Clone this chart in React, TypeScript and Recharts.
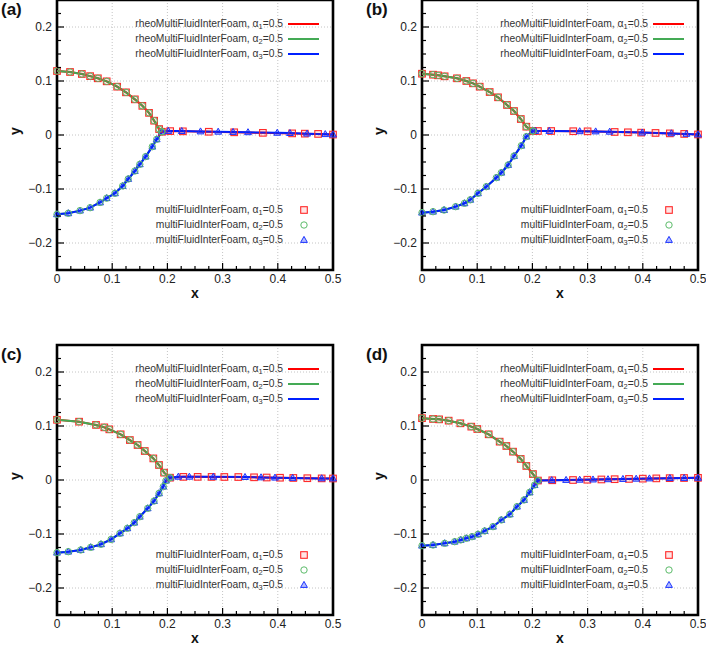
import React from "react";
import {
    ComposedChart,
    Line,
    Scatter,
    XAxis,
    YAxis,
    CartesianGrid,
    ReferenceArea
} from "recharts";

type Pt = { x: number; y: number };
const pts = (rows: number[][]): Pt[] => rows.map(([x, y]) => ({ x, y }));

// panel (a)
const upperA = pts([[0, 0.1185], [0.0236, 0.1167], [0.045, 0.113], [0.06, 0.109], [0.074, 0.105], [0.09, 0.0994], [0.109, 0.0895], [0.125, 0.079], [0.141, 0.066], [0.1546, 0.054], [0.1667, 0.041], [0.176, 0.0265], [0.185, 0.011], [0.19, 0.006]]);
const lowerA = pts([[0, -0.1469], [0.0205, -0.145], [0.0417, -0.14], [0.06, -0.1346], [0.078, -0.125], [0.09, -0.117], [0.105, -0.108], [0.119, -0.0944], [0.129, -0.0815], [0.141, -0.0667], [0.15, -0.0543], [0.1606, -0.04], [0.1727, -0.0216], [0.1806, -0.008], [0.19, 0.006]]);
const flatSqA = pts([[0.205, 0.0072], [0.228, 0.0068], [0.275, 0.006], [0.321, 0.005], [0.373, 0.004], [0.426, 0.003], [0.449, 0.0025], [0.473, 0.002], [0.5, 0.0008]]);
const flatTrA = pts([[0.2017, 0.0074], [0.226, 0.0072], [0.26, 0.0065], [0.292, 0.006], [0.319, 0.0055], [0.346, 0.005], [0.399, 0.004], [0.422, 0.0035], [0.453, 0.0025], [0.486, 0.0015], [0.5, 0.0008]]);

// panel (b)
const upperB = pts([[0, 0.1135], [0.02, 0.1117], [0.029, 0.1105], [0.041, 0.1087], [0.0634, 0.105], [0.0803, 0.1], [0.0924, 0.0957], [0.1045, 0.0895], [0.1226, 0.0796], [0.1377, 0.0698], [0.154, 0.0556], [0.1667, 0.0444], [0.179, 0.0296], [0.189, 0.0154], [0.201, 0.0074]]);
const lowerB = pts([[0, -0.1438], [0.02, -0.142], [0.04, -0.139], [0.061, -0.1327], [0.077, -0.1265], [0.0875, -0.12], [0.1014, -0.108], [0.1165, -0.0957], [0.1347, -0.079], [0.1437, -0.0698], [0.156, -0.0556], [0.1667, -0.039], [0.18, -0.0198], [0.189, -0.003], [0.201, 0.0074]]);
const flatSqB = pts([[0.21, 0.0074], [0.234, 0.0074], [0.274, 0.007], [0.3, 0.0068], [0.349, 0.0056], [0.373, 0.005], [0.397, 0.0044], [0.423, 0.0038], [0.449, 0.003], [0.475, 0.002], [0.5, 0.001]]);
const flatTrB = pts([[0.2054, 0.0074], [0.2306, 0.0074], [0.2857, 0.0069], [0.3146, 0.0065], [0.34, 0.006], [0.399, 0.0044], [0.4517, 0.003], [0.479, 0.002], [0.5, 0.001]]);

// panel (c)
const upperC = pts([[0, 0.1115], [0.04, 0.108], [0.0707, 0.102], [0.0857, 0.0975], [0.0948, 0.0938], [0.1153, 0.0846], [0.132, 0.074], [0.146, 0.0648], [0.159, 0.0537], [0.1745, 0.04], [0.1848, 0.0278], [0.194, 0.0136], [0.2047, 0.0043]]);
const lowerC = pts([[0, -0.1346], [0.0205, -0.1327], [0.043, -0.1296], [0.061, -0.1247], [0.0797, -0.119], [0.098, -0.11], [0.114, -0.0988], [0.1274, -0.0895], [0.14, -0.079], [0.15, -0.068], [0.1643, -0.0525], [0.1757, -0.039], [0.1848, -0.0247], [0.1926, -0.0123], [0.1975, -0.0012], [0.2047, 0.0043]]);
const flatSqC = pts([[0.2289, 0.0058], [0.2548, 0.0058], [0.2801, 0.0057], [0.3031, 0.0056], [0.3285, 0.0055], [0.357, 0.005], [0.3798, 0.0046], [0.404, 0.0042], [0.4281, 0.0038], [0.4535, 0.0033], [0.4795, 0.003], [0.5, 0.0028]]);
const flatTrC = pts([[0.2198, 0.006], [0.2398, 0.006], [0.2832, 0.0058], [0.3406, 0.0054], [0.3696, 0.0048], [0.3949, 0.0043], [0.4269, 0.0038], [0.4795, 0.003], [0.5, 0.0028]]);

// panel (d)
const upperD = pts([[0, 0.1145], [0.02, 0.113], [0.031, 0.1123], [0.0483, 0.1099], [0.0694, 0.105], [0.0893, 0.0988], [0.1002, 0.0944], [0.1208, 0.0846], [0.1407, 0.071], [0.1528, 0.063], [0.1649, 0.0525], [0.1788, 0.039], [0.189, 0.026], [0.201, 0.011], [0.21, -0.001]]);
const lowerD = pts([[0, -0.1216], [0.02, -0.1204], [0.0411, -0.1173], [0.0592, -0.1142], [0.0701, -0.111], [0.0803, -0.108], [0.0906, -0.105], [0.1014, -0.1006], [0.1135, -0.0944], [0.1286, -0.0864], [0.1437, -0.074], [0.159, -0.0636], [0.172, -0.0494], [0.1848, -0.037], [0.195, -0.0228], [0.204, -0.0093], [0.21, -0.001]]);
const flatSqD = pts([[0.236, -0.0005], [0.2736, 0], [0.2995, 0.0005], [0.325, 0.001], [0.349, 0.0015], [0.375, 0.002], [0.4, 0.0025], [0.4245, 0.003], [0.4487, 0.0034], [0.4747, 0.0037], [0.5, 0.004]]);
const flatTrD = pts([[0.235, -0.0005], [0.261, 0], [0.2857, 0.0004], [0.3098, 0.0008], [0.337, 0.0013], [0.364, 0.0018], [0.388, 0.0023], [0.412, 0.0028], [0.449, 0.0034], [0.475, 0.0037], [0.5, 0.004]]);

// axes
const xTicks = [0, 0.025, 0.05, 0.075, 0.1, 0.125, 0.15, 0.175, 0.2, 0.225, 0.25, 0.275, 0.3, 0.325, 0.35, 0.375, 0.4, 0.425, 0.45, 0.475, 0.5];
const yTicks = [-0.25, -0.225, -0.2, -0.175, -0.15, -0.125, -0.1, -0.075, -0.05, -0.025, 0, 0.025, 0.05, 0.075, 0.1, 0.125, 0.15, 0.175, 0.2, 0.225, 0.25];
const xGrid = [0.1, 0.2, 0.3, 0.4];
const yGrid = [-0.2, -0.1, 0, 0.1, 0.2];

// legend text
const solverNames = ["rheoMultiFluidInterFoam", "multiFluidInterFoam"];
const phaseIndex = ["1", "2", "3"];
const alphaLevel = "0.5";

const lineColors = ["#ff0000", "#44aa55", "#0020ff"];
const FONT = "'Liberation Sans', Arial, sans-serif";

const isMajor = (v: number) => Math.abs(v * 10 - Math.round(v * 10)) < 1e-6;
const fmtX = (v: number) => (v === 0 ? "0" : v.toFixed(1));
const fmtY = (v: number) => (Math.abs(v) < 1e-9 ? "0" : v < 0 ? "\u2212" + Math.abs(v).toFixed(1) : v.toFixed(1));

function Mark({ kind, cx, cy }: { kind: number; cx: number; cy: number }) {
    if (kind === 0) {
        return <rect x={cx - 3.3} y={cy - 3.3} width={6.6} height={6.6} fill="rgba(255,0,0,0.1)" stroke="#ff2a2a" strokeWidth={1.1} />;
    }
    if (kind === 1) {
        return <circle cx={cx} cy={cy} r={3.2} fill="none" stroke="#5cbb6a" strokeWidth={1} />;
    }
    return <path d={`M${cx},${cy - 3.6}L${cx + 3.4},${cy + 2.4}L${cx - 3.4},${cy + 2.4}Z`} fill="rgba(0,30,255,0.3)" stroke="#1a33ff" strokeWidth={1} />;
}

const BottomTick = (props: any) => {
    const { x, y, payload } = props;
    const major = isMajor(payload.value);
    return (
        <g>
            <line x1={x} x2={x} y1={y} y2={y - (major ? 7 : 4)} stroke="#000" strokeWidth={1.2} />
            {major && (
                <text x={x} y={y + 13} textAnchor="middle" fontSize={12} fontFamily={FONT} fill="#222">
                    {fmtX(payload.value)}
                </text>
            )}
        </g>
    );
};

const TopTick = (props: any) => {
    const { x, y, payload } = props;
    const major = isMajor(payload.value);
    return <line x1={x} x2={x} y1={y} y2={y + (major ? 7 : 4)} stroke="#000" strokeWidth={1.2} />;
};

const LeftTick = (props: any) => {
    const { x, y, payload } = props;
    const major = isMajor(payload.value);
    return (
        <g>
            <line x1={x} x2={x + (major ? 7 : 4)} y1={y} y2={y} stroke="#000" strokeWidth={1.2} />
            {major && (
                <text x={x - 5} y={y + 4.3} textAnchor="end" fontSize={12} fontFamily={FONT} fill="#222">
                    {fmtY(payload.value)}
                </text>
            )}
        </g>
    );
};

const RightTick = (props: any) => {
    const { x, y, payload } = props;
    const major = isMajor(payload.value);
    return <line x1={x} x2={x - (major ? 7 : 4)} y1={y} y2={y} stroke="#000" strokeWidth={1.2} />;
};

interface PanelDef {
    tag: string;
    upper: Pt[];
    lower: Pt[];
    flatSq: Pt[];
    flatTr: Pt[];
    left: number;
    top: number;
    yAxisW: number;
    rightM: number;
    topM: number;
    xAxisH: number;
    yLabelOffset: number;
}

const panels: PanelDef[] = [
    { tag: "(a)", upper: upperA, lower: lowerA, flatSq: flatSqA, flatTr: flatTrA, left: 0, top: 0, yAxisW: 57, rightM: 20, topM: 0, xAxisH: 36, yLabelOffset: 15 },
    { tag: "(b)", upper: upperB, lower: lowerB, flatSq: flatSqB, flatTr: flatTrB, left: 353, top: 0, yAxisW: 69, rightM: 8, topM: 0, xAxisH: 36, yLabelOffset: 26 },
    { tag: "(c)", upper: upperC, lower: lowerC, flatSq: flatSqC, flatTr: flatTrC, left: 0, top: 325, yAxisW: 57, rightM: 20, topM: 20, xAxisH: 30, yLabelOffset: 15 },
    { tag: "(d)", upper: upperD, lower: lowerD, flatSq: flatSqD, flatTr: flatTrD, left: 353, top: 325, yAxisW: 69, rightM: 8, topM: 20, xAxisH: 30, yLabelOffset: 26 }
];

const PLOT_W = 276;
const PLOT_H = 270;

function LegendText({ solver, phase, right, cy }: { solver: string; phase: string; right: number; cy: number }) {
    return (
        <div
            style={{
                position: "absolute",
                left: right - 240,
                top: cy - 7,
                width: 240,
                height: 14,
                lineHeight: "14px",
                textAlign: "right",
                fontSize: 10.3,
                color: "#333",
                whiteSpace: "nowrap"
            }}
        >
            {solver}, α
            <sub style={{ fontSize: "0.72em", lineHeight: 0, verticalAlign: "-0.3em" }}>{phase}</sub>={alphaLevel}
        </div>
    );
}

// markers drawn squares, triangles, then circles on top
const markOrder = [0, 2, 1];

function Panel({ p }: { p: PanelDef }) {
    const line1 = [...p.upper, ...p.flatSq];
    const line2 = [...p.upper, ...[...p.lower].reverse()];
    const line3 = [...p.lower, ...p.flatTr];
    const lines = [line1, line2, line3];
    const plotLeft = p.left + p.yAxisW;
    const plotTop = p.top + p.topM;
    const width = p.yAxisW + PLOT_W + p.rightM;
    const height = p.topM + PLOT_H + p.xAxisH;

    return (
        <>
            <div style={{ position: "absolute", left: p.left, top: p.top }}>
                <ComposedChart width={width} height={height} margin={{ top: p.topM, right: p.rightM, left: 0, bottom: 0 }}>
                    <CartesianGrid verticalValues={xGrid} horizontalValues={yGrid} stroke="#c4c4c4" strokeDasharray="1 2" />
                    <XAxis
                        type="number"
                        dataKey="x"
                        domain={[0, 0.5]}
                        ticks={xTicks}
                        interval={0}
                        tickSize={0}
                        tickMargin={0}
                        axisLine={false}
                        tickLine={false}
                        height={p.xAxisH}
                        tick={BottomTick}
                        label={{ value: "x", position: "insideBottom", offset: p.xAxisH - 28, fontSize: 14, fontWeight: "bold", fontFamily: FONT, fill: "#111" }}
                    />
                    <XAxis
                        xAxisId="top"
                        orientation="top"
                        type="number"
                        dataKey="x"
                        domain={[0, 0.5]}
                        ticks={xTicks}
                        interval={0}
                        tickSize={0}
                        tickMargin={0}
                        axisLine={false}
                        tickLine={false}
                        height={0}
                        tick={TopTick}
                        allowDataOverflow
                    />
                    <YAxis
                        type="number"
                        dataKey="y"
                        domain={[-0.25, 0.25]}
                        ticks={yTicks}
                        interval={0}
                        tickSize={0}
                        tickMargin={0}
                        axisLine={false}
                        tickLine={false}
                        width={p.yAxisW}
                        tick={LeftTick}
                        label={{ value: "y", angle: -90, position: "insideLeft", offset: p.yLabelOffset, fontSize: 14, fontWeight: "bold", fontFamily: FONT, fill: "#111" }}
                    />
                    <YAxis
                        yAxisId="right"
                        orientation="right"
                        type="number"
                        dataKey="y"
                        domain={[-0.25, 0.25]}
                        ticks={yTicks}
                        interval={0}
                        tickSize={0}
                        tickMargin={0}
                        axisLine={false}
                        tickLine={false}
                        width={0}
                        tick={RightTick}
                        allowDataOverflow
                    />
                    {lines.map((d, i) => (
                        <Line
                            key={"l" + i}
                            data={d}
                            dataKey="y"
                            type="linear"
                            stroke={lineColors[i]}
                            strokeWidth={2}
                            dot={false}
                            activeDot={false}
                            isAnimationActive={false}
                        />
                    ))}
                    {markOrder.map((k) => (
                        <Scatter
                            key={"s" + k}
                            data={lines[k]}
                            dataKey="y"
                            isAnimationActive={false}
                            shape={(sp: any) => <Mark kind={k} cx={sp.cx} cy={sp.cy} />}
                        />
                    ))}
                    <ReferenceArea x1={0} x2={0.5} y1={-0.25} y2={0.25} fill="none" fillOpacity={0} stroke="#000" strokeWidth={2.6} />
                </ComposedChart>
            </div>

            <div
                style={{
                    position: "absolute",
                    left: plotLeft - 56,
                    top: plotTop + 1,
                    fontSize: 17,
                    fontWeight: "bold",
                    lineHeight: "18px",
                    color: "#111"
                }}
            >
                {p.tag}
            </div>

            {phaseIndex.map((ph, i) => (
                <React.Fragment key={"lg" + i}>
                    <LegendText solver={solverNames[0]} phase={ph} right={plotLeft + 226} cy={plotTop + 24 + i * 15} />
                    <div
                        style={{
                            position: "absolute",
                            left: plotLeft + 231,
                            top: plotTop + 23 + i * 15,
                            width: 31,
                            height: 2,
                            background: lineColors[i]
                        }}
                    />
                    <LegendText solver={solverNames[1]} phase={ph} right={plotLeft + 226} cy={plotTop + 210 + i * 15} />
                    <svg
                        width={10}
                        height={10}
                        style={{ position: "absolute", left: plotLeft + 242, top: plotTop + 205 + i * 15 }}
                    >
                        <Mark kind={i} cx={5} cy={5} />
                    </svg>
                </React.Fragment>
            ))}
        </>
    );
}

export default function App() {
    return (
        <div
            style={{
                position: "absolute",
                left: 0,
                top: 0,
                width: 706,
                height: 645,
                background: "#fff",
                fontFamily: FONT,
                overflow: "hidden"
            }}
        >
            {panels.map((p) => (
                <Panel key={p.tag} p={p} />
            ))}
        </div>
    );
}
